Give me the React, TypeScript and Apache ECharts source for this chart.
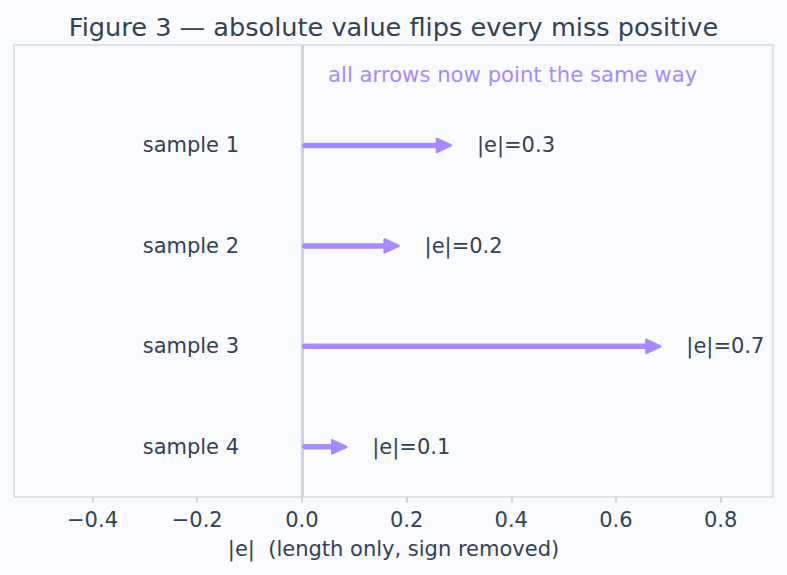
import React, { useEffect, useRef } from "react";
import * as echarts from "echarts";

const samples = ["sample 1", "sample 2", "sample 3", "sample 4"];
const absErrors = [0.3, 0.2, 0.7, 0.1];
const xTicks = [-0.4, -0.2, 0.0, 0.2, 0.4, 0.6, 0.8];
const titleText = "Figure 3 — absolute value flips every miss positive";
const xName = "|e|  (length only, sign removed)";
const noteText = "all arrows now point the same way";

const TEXT = "#334155";
const ARROW = "#a78bfa";
const FONT = "DejaVu Sans";

export default function App() {
  const ref = useRef<HTMLDivElement>(null);
  useEffect(() => {
    document.body.style.margin = "0";
    const chart = echarts.init(ref.current!, null, { renderer: "svg" });
    const arrowData = absErrors.map((v, i) => [v, i + 1]);
    chart.setOption({
      animation: false,
      backgroundColor: "#fafbfe",
      title: {
        text: titleText,
        left: "center",
        top: 9,
        textStyle: { fontFamily: FONT, fontSize: 25.6, fontWeight: "normal", color: TEXT },
      },
      grid: {
        left: 14,
        right: 14,
        top: 45,
        bottom: 78,
        show: true,
        borderColor: "#d3dbe5",
        borderWidth: 1.5,
        backgroundColor: "transparent",
      },
      xAxis: {
        type: "value",
        min: -0.55,
        max: 0.9,
        name: xName,
        nameLocation: "middle",
        nameGap: 41,
        nameTextStyle: { fontFamily: FONT, fontSize: 21, color: TEXT },
        axisLine: { show: false, onZero: false },
        splitLine: { show: false },
        axisTick: {
          show: true,
          customValues: xTicks,
          length: 6,
          lineStyle: { color: "#c3ccd8", width: 1.5 },
        },
        axisLabel: {
          customValues: xTicks,
          margin: 12,
          fontFamily: FONT,
          fontSize: 21,
          color: TEXT,
          formatter: (v: number) => (v < 0 ? "\u2212" + Math.abs(v).toFixed(1) : v.toFixed(1)),
        },
      },
      yAxis: {
        type: "value",
        min: 0,
        max: 4.5,
        inverse: true,
        show: false,
      },
      series: [
        {
          type: "custom",
          data: arrowData,
          renderItem: (params: any, api: any) => {
            const v = api.value(0);
            const i = api.value(1);
            const s = api.coord([0, i]);
            const e = api.coord([v, i]);
            const lbl = api.coord([-0.12, i]);
            const y = s[1];
            const tip = e[0] - 8;
            const hl = 14;
            const hw = 6.5;
            return {
              type: "group",
              children: [
                {
                  type: "line",
                  shape: { x1: s[0] + 3, y1: y, x2: tip - hl + 3, y2: y },
                  style: { stroke: ARROW, lineWidth: 5.5, lineCap: "round" },
                },
                {
                  type: "polygon",
                  shape: { points: [[tip - hl, y - hw], [tip, y], [tip - hl, y + hw]] },
                  style: { fill: ARROW, stroke: ARROW, lineWidth: 2.5, lineJoin: "round" },
                },
                {
                  type: "text",
                  x: lbl[0],
                  y: y,
                  style: {
                    text: samples[i - 1],
                    align: "right",
                    verticalAlign: "middle",
                    fontFamily: FONT,
                    fontSize: 21,
                    fill: TEXT,
                  },
                },
                {
                  type: "text",
                  x: e[0] + 18,
                  y: y,
                  style: {
                    text: "|e|=" + v.toFixed(1),
                    align: "left",
                    verticalAlign: "middle",
                    fontFamily: FONT,
                    fontSize: 21,
                    fill: TEXT,
                  },
                },
              ],
            };
          },
          markLine: {
            silent: true,
            symbol: "none",
            label: { show: false },
            lineStyle: { color: "#cbd5e1", width: 3, type: "solid" },
            data: [{ xAxis: 0 }],
            z: 1,
          },
          z: 3,
        },
        {
          type: "custom",
          data: [[0.05, 0.29]],
          renderItem: (params: any, api: any) => {
            const p = api.coord([api.value(0), api.value(1)]);
            return {
              type: "text",
              x: p[0],
              y: p[1],
              style: {
                text: noteText,
                align: "left",
                verticalAlign: "middle",
                fontFamily: FONT,
                fontSize: 21.2,
                fill: ARROW,
              },
            };
          },
        },
      ],
    });
    return () => chart.dispose();
  }, []);
  return <div ref={ref} style={{ width: 787, height: 575 }} />;
}
